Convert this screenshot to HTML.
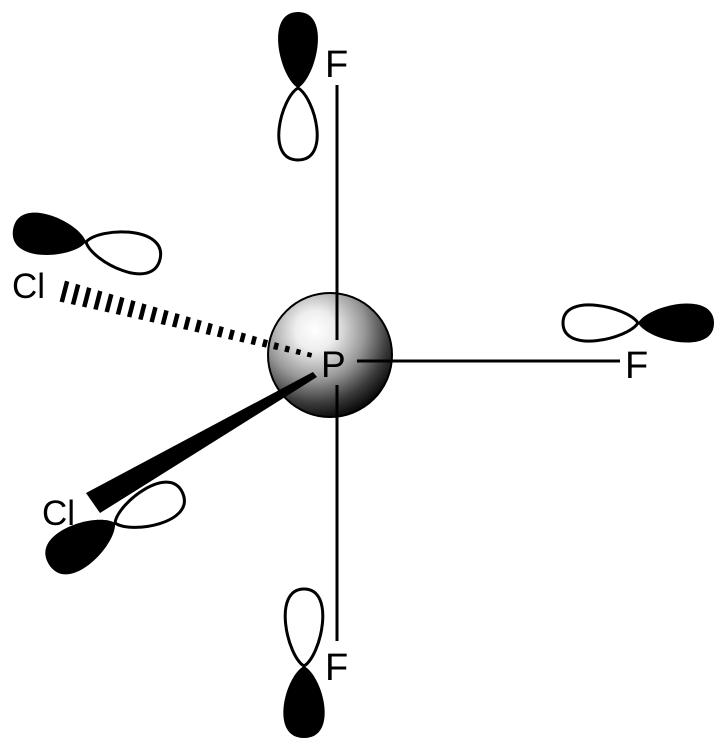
<!DOCTYPE html>
<html><head><meta charset="utf-8"><style>
html,body{margin:0;padding:0;background:#fff;}
svg{display:block}
text{font-family:"Liberation Sans",sans-serif;fill:#000}
</style></head><body>
<svg width="726" height="752" viewBox="0 0 726 752" xmlns="http://www.w3.org/2000/svg">
<defs>
<radialGradient id="g" cx="0.38" cy="0.3" r="0.72">
<stop offset="0" stop-color="#ffffff"/>
<stop offset="0.22" stop-color="#eeeeee"/>
<stop offset="0.55" stop-color="#999"/>
<stop offset="0.82" stop-color="#3a3a3a"/>
<stop offset="1" stop-color="#0a0a0a"/>
</radialGradient>
<mask id="hm">
<line x1="40" y1="285.4" x2="330" y2="360.4" stroke="#fff" stroke-width="40" stroke-dasharray="4.5 7"/>
</mask>
</defs>

<line x1="337" y1="85" x2="337" y2="641" stroke="#000" stroke-width="3"/>
<line x1="337" y1="361" x2="620" y2="361" stroke="#000" stroke-width="3"/>

<!-- top F orbital -->
<g transform="translate(298,88) rotate(-90)">
<path d="M0 0 C10 -18 76 -34 76 0 C76 34 10 18 0 0Z" fill="#000"/>
</g>
<g transform="translate(298,88) rotate(90)">
<path d="M0 0 C10 -17 72 -33 72 0 C72 33 10 17 0 0Z" fill="#fff" stroke="#000" stroke-width="3"/>
</g>

<!-- right F orbital -->
<g transform="translate(638,323) rotate(180)">
<path d="M0 0 C10 -16 75 -31 75 0 C75 31 10 16 0 0Z" fill="#fff" stroke="#000" stroke-width="3"/>
</g>
<g transform="translate(638,323)">
<path d="M0 0 C10 -18 76 -33 76 0 C76 33 10 18 0 0Z" fill="#000"/>
</g>

<!-- bottom F orbital -->
<g transform="translate(304,666) rotate(-90)">
<path d="M0 0 C10 -17 77 -32 77 0 C77 32 10 17 0 0Z" fill="#fff" stroke="#000" stroke-width="3"/>
</g>
<g transform="translate(304,666) rotate(90)">
<path d="M0 0 C10 -19 72 -35 72 0 C72 35 10 19 0 0Z" fill="#000"/>
</g>

<!-- top Cl orbital -->
<g transform="translate(86,242) rotate(13)">
<path d="M0 0 C10 -18 76 -34 76 0 C76 34 10 18 0 0Z" fill="#fff" stroke="#000" stroke-width="3"/>
</g>
<g transform="translate(86,242) rotate(190)">
<path d="M0 0 C10 -19 74 -35 74 0 C74 35 10 19 0 0Z" fill="#000"/>
</g>

<!-- lower Cl open lobe -->
<g transform="translate(115,523) rotate(-24)">
<path d="M0 0 C10 -17 74 -33 74 0 C74 33 10 17 0 0Z" fill="#fff" stroke="#000" stroke-width="3"/>
</g>

<!-- sphere -->
<circle cx="330" cy="355" r="62" fill="url(#g)" stroke="#000" stroke-width="2"/>
<line x1="337" y1="293" x2="337" y2="340" stroke="#000" stroke-width="3"/>
<line x1="337" y1="385" x2="337" y2="417" stroke="#000" stroke-width="3"/>
<line x1="357" y1="361" x2="392" y2="361" stroke="#000" stroke-width="3"/>

<!-- hashed wedge -->
<polygon points="60.75,279.4 55.25,300.6 317.5,359 318.5,355" fill="#000" mask="url(#hm)"/>

<!-- solid wedge -->
<polygon points="86,493 100,513 317,377 313,372" fill="#000"/>

<!-- lower Cl filled lobe -->
<g transform="translate(115,523) rotate(148)">
<path d="M0 0 C10 -20 78 -37 78 0 C78 37 10 20 0 0Z" fill="#000"/>
</g>

<text x="321" y="377" font-size="37">P</text>
<text x="325" y="77" font-size="38">F</text>
<text x="625" y="378" font-size="38">F</text>
<text x="325" y="680" font-size="38">F</text>
<text x="12" y="298" font-size="35">Cl</text>
<text x="42" y="525" font-size="35">Cl</text>
</svg>
</body></html>
